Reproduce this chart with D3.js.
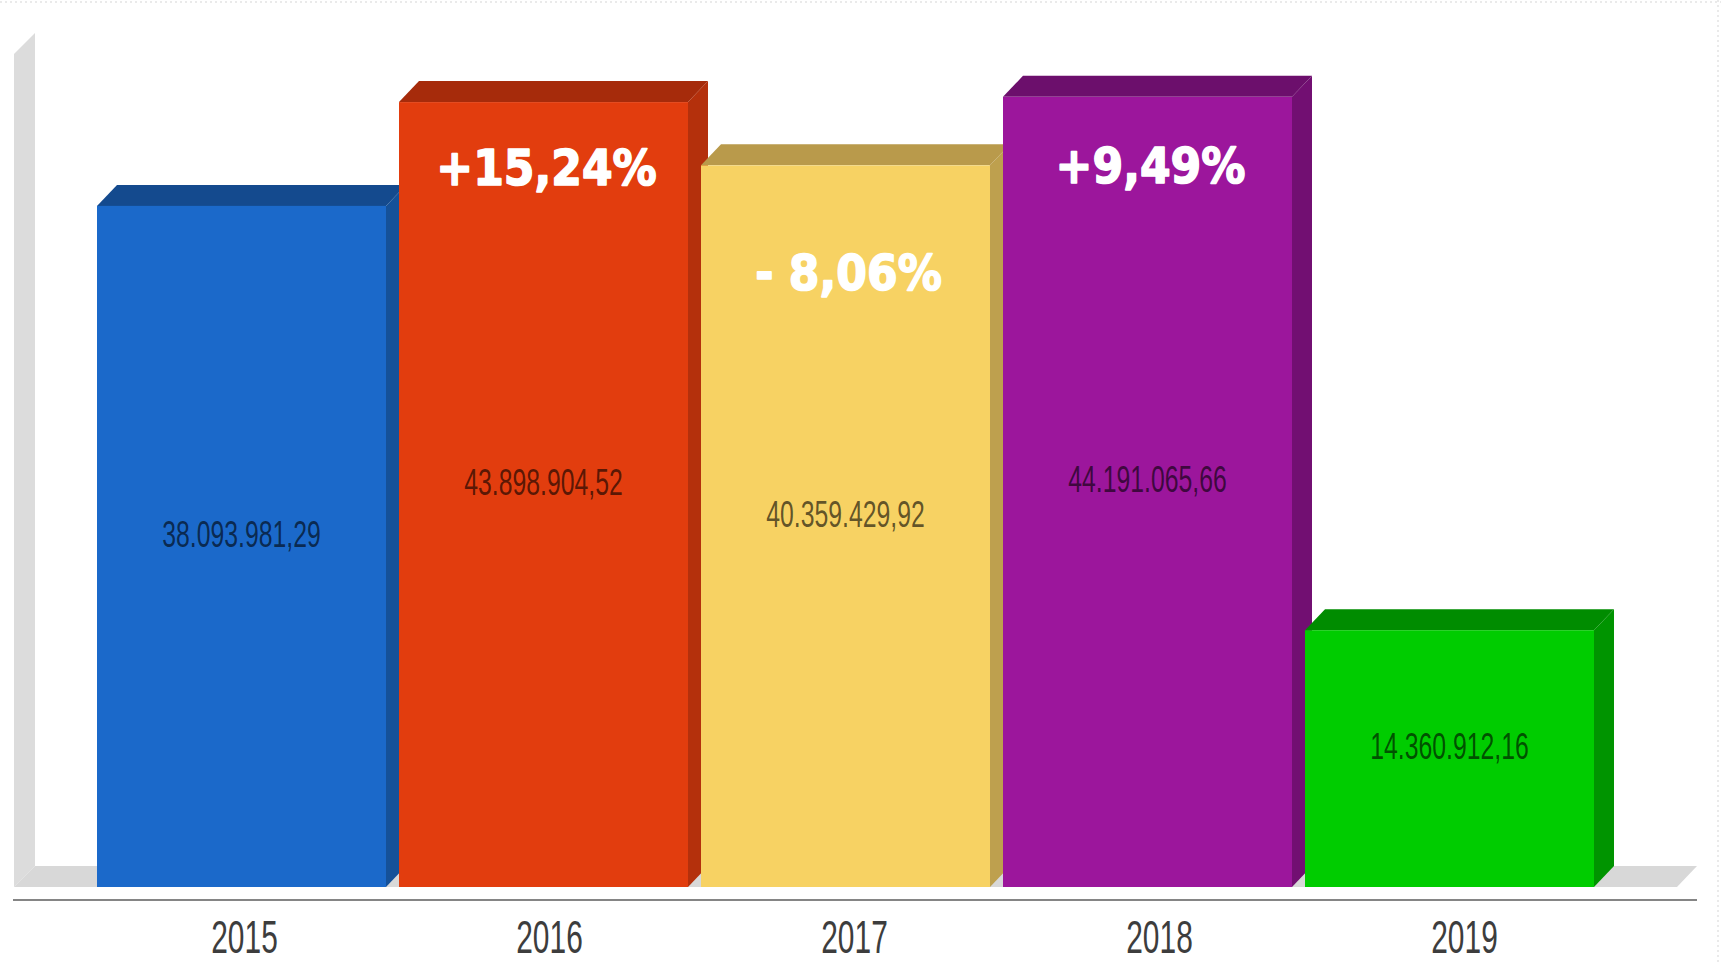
<!DOCTYPE html>
<html>
<head>
<meta charset="utf-8">
<script src="https://cdn.jsdelivr.net/npm/d3@7"></script>
<style>
  html, body { margin: 0; padding: 0; background: #fff; }
  svg { display: block; }
</style>
</head>
<body>
<svg id="chart" width="1721" height="963"></svg>
<script>
// ---- data ----
const years = ["2015", "2016", "2017", "2018", "2019"];
const values = [38093981.29, 43898904.52, 40359429.92, 44191065.66, 14360912.16];
const valueLabels = ["38.093.981,29", "43.898.904,52", "40.359.429,92", "44.191.065,66", "14.360.912,16"];
const growthLabels = ["", "+15,24%", "- 8,06%", "+9,49%", ""];

// ---- styling (not data) ----
const frontColors = ["#1b69ca", "#e23d0e", "#f7d263", "#9c169c", "#00cc00"];
const topColors   = ["#144a8e", "#a62b0b", "#b99a4b", "#6c0f6c", "#008c00"];
const sideColors  = ["#155199", "#b4300c", "#bea04e", "#720f72", "#009400"];
const growthOffset = [0, 83, 125, 86, 0];

const W = 1721, H = 963;
const baseY = 887;
const dx = 20, dy = 21;

const svg = d3.select("#chart");

const x = d3.scaleBand().domain(years).range([97, 1594]).paddingInner(13 / 302).paddingOuter(0);
const xLabel = d3.scaleBand().domain(years).range([92, 1617]).padding(0);
const y = d3.scaleLinear().domain([0, 45e6]).range([baseY, baseY - 45 * 17.88]);

// faint dotted frame (top and right)
svg.append("line").attr("x1", 0).attr("x2", W).attr("y1", 2).attr("y2", 2)
  .attr("stroke", "#e4e4e4").attr("stroke-width", 1.5).attr("stroke-dasharray", "2,3");
svg.append("line").attr("x1", 1718).attr("x2", 1718).attr("y1", 0).attr("y2", H)
  .attr("stroke", "#e4e4e4").attr("stroke-width", 1.5).attr("stroke-dasharray", "2,3");

// wall
const wallL = 14, wallR = 35, wallTop = 33;
svg.append("path")
  .attr("d", `M${wallL},${wallTop + dy} L${wallR},${wallTop} L${wallR},${baseY - dy} L${wallL},${baseY} Z`)
  .attr("fill", "#dcdcdc");
// floor
svg.append("path")
  .attr("d", `M${wallL},${baseY} L${wallR},${baseY - dy} L${1697},${baseY - dy} L${1677},${baseY} Z`)
  .attr("fill", "#d8d8d8");

// baseline
svg.append("line").attr("x1", 13).attr("x2", 1697).attr("y1", 900).attr("y2", 900)
  .attr("stroke", "#858585").attr("stroke-width", 2);

// bars
const bars = svg.append("g").selectAll("g").data(years).join("g");
bars.each(function(d, i) {
  const g = d3.select(this);
  const x0 = x(d), x1 = x(d) + x.bandwidth();
  const yt = y(values[i]);
  // side face
  g.append("path")
    .attr("d", `M${x1},${yt} L${x1 + dx},${yt - dy} L${x1 + dx},${baseY - dy} L${x1},${baseY} Z`)
    .attr("fill", sideColors[i]);
  // top face
  g.append("path")
    .attr("d", `M${x0},${yt} L${x0 + dx},${yt - dy} L${x1 + dx},${yt - dy} L${x1},${yt} Z`)
    .attr("fill", topColors[i]);
  // front face
  g.append("rect")
    .attr("x", x0).attr("y", yt).attr("width", x.bandwidth()).attr("height", baseY - yt)
    .attr("fill", frontColors[i]);
});

// value labels
bars.append("text")
  .attr("transform", (d, i) => {
    const cx = x(d) + x.bandwidth() / 2;
    const cy = (y(values[i]) - dy + baseY) / 2 + 11;
    return `translate(${cx},${cy}) scale(0.67,1)`;
  })
  .attr("text-anchor", "middle")
  .attr("font-family", "'Liberation Sans Narrow', 'Liberation Sans', Arial, sans-serif")
  .attr("font-size", 37)
  .attr("fill", "#000").attr("fill-opacity", 0.62)
  .text((d, i) => valueLabels[i]);

// growth labels
bars.filter((d, i) => growthLabels[i] !== "")
  .append("text")
  .attr("transform", (d) => {
    const i = years.indexOf(d);
    const cx = x(d) + x.bandwidth() / 2 + 3;
    const by = y(values[i]) + growthOffset[i];
    return `translate(${cx},${by}) scale(0.9,1)`;
  })
  .attr("text-anchor", "middle")
  .attr("font-family", "'DejaVu Sans', sans-serif")
  .attr("font-weight", "bold")
  .attr("font-size", 49)
  .attr("fill", "#ffffff")
  .attr("stroke", "#ffffff").attr("stroke-width", 1.6).attr("stroke-linejoin", "round")
  .text((d) => growthLabels[years.indexOf(d)]);

// year axis labels
svg.append("g").selectAll("text").data(years).join("text")
  .attr("transform", d => `translate(${xLabel(d) + xLabel.bandwidth() / 2},953) scale(0.68,1.05)`)
  .attr("text-anchor", "middle")
  .attr("font-family", "'Liberation Sans Narrow', 'Liberation Sans', Arial, sans-serif")
  .attr("font-size", 44)
  .attr("fill", "#3d3d3d")
  .text(d => d);
</script>
</body>
</html>
